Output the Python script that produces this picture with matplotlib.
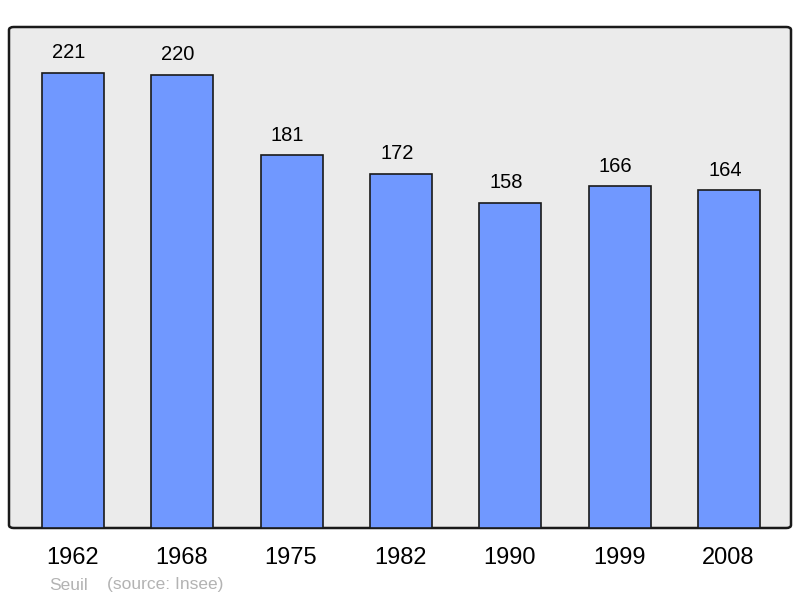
import matplotlib
matplotlib.use("Agg")
import matplotlib.pyplot as plt
from matplotlib.patches import FancyBboxPatch

years = ["1962", "1968", "1975", "1982", "1990", "1999", "2008"]
population = [221, 220, 181, 172, 158, 166, 164]

plt.rcParams['font.family'] = ['Liberation Sans', 'DejaVu Sans']

fig = plt.figure(figsize=(8, 5.98), dpi=100)
ax = fig.add_axes([9/800, 70/598, 782/800, 501/598])
ax.set_xlim(-0.584, 6.566)
ax.set_ylim(0, 243.3)
ax.axis('off')

# background frame
frame = FancyBboxPatch((0, 0), 1, 1, boxstyle="round,pad=0,rounding_size=0.006",
                       transform=ax.transAxes, facecolor='#ebebeb', edgecolor='#1a1a1a',
                       linewidth=1.8, zorder=0, clip_on=False)
ax.add_patch(frame)

x = list(range(len(years)))
ax.bar(x, population, width=0.566, color='#7098ff', edgecolor='#1a1a1a', linewidth=1.2, zorder=2)

for xi, v in zip(x, population):
    ax.annotate(str(v), (xi, v), xytext=(-3, 14.5), textcoords='offset points',
                ha='center', va='center', fontsize=14.5, color='black', zorder=3)
    ax.annotate(years[xi], (xi, 0), xytext=(-0.5, -21.5), textcoords='offset points',
                ha='center', va='center', fontsize=17, color='black', annotation_clip=False)

fig.text(49/800, 1 - 585/598, "Seuil", fontsize=12.5, color='#b3b3b3', ha='left', va='center')
fig.text(107/800, 1 - 585/598, "(source: Insee)", fontsize=12.5, color='#b3b3b3', ha='left', va='center')

fig.savefig("out.png", dpi=100)
